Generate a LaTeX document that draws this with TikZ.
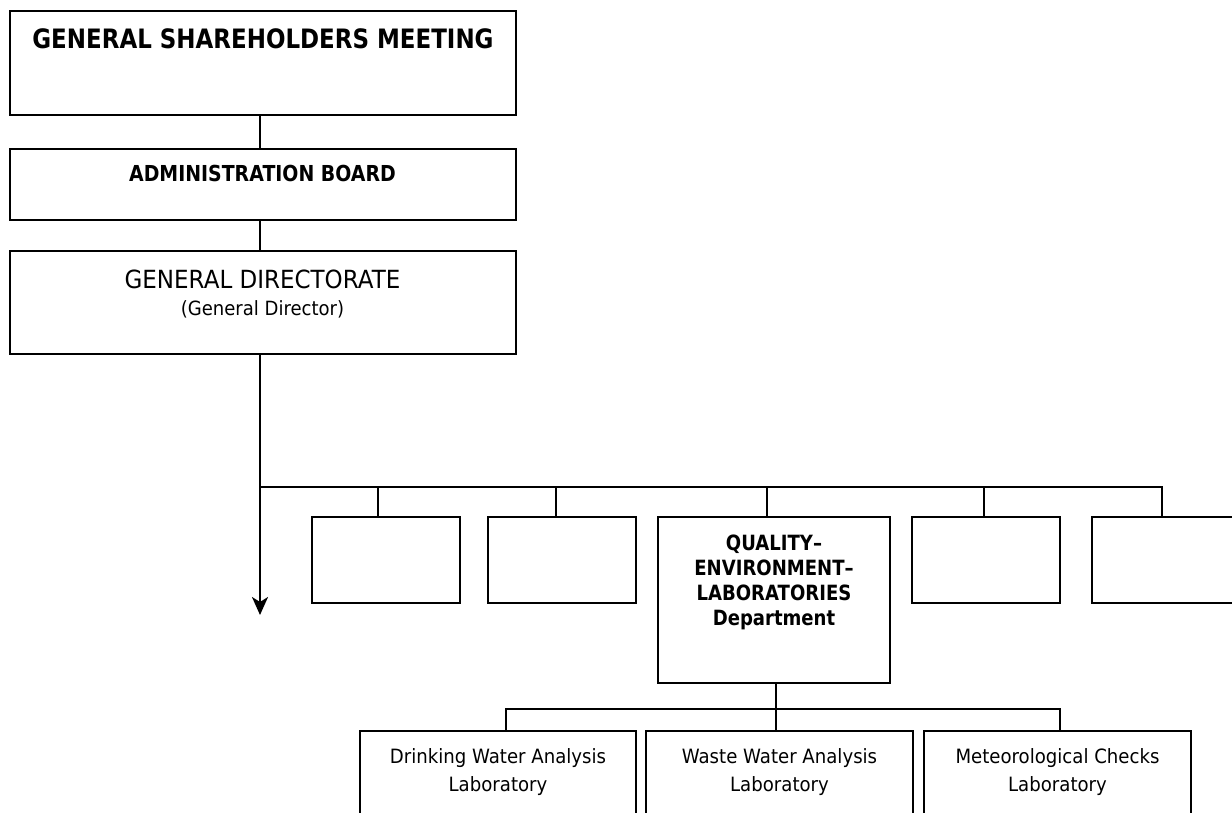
\documentclass[tikz,border=0pt]{standalone}
\usepackage{fontspec}
\setmainfont{DejaVu Sans}[FakeStretch=0.92,BoldFeatures={FakeStretch=0.86}]
\usetikzlibrary{arrows.meta}
\begin{document}
\begin{tikzpicture}[x=1pt,y=-1pt,
  box/.style={draw, line width=2.2pt, inner sep=0pt, rectangle},
  conn/.style={line width=2.2pt},
  txt/.style={inner sep=0pt, anchor=base},
  mtxt/.style={inner sep=0pt, anchor=north, align=center}]
\useasboundingbox (0,0) rectangle (1232,813);
\clip (0,0) rectangle (1232,813);
% top chain
\node[box, minimum width=506pt, minimum height=104pt] (gsm) at (263,63) {};
\node[box, minimum width=506pt, minimum height=71pt] (adm) at (263,184.5) {};
\node[box, minimum width=506pt, minimum height=103pt] (gd) at (263,302.5) {};
\node[txt, font=\fontsize{26.7}{30}\selectfont\bfseries] (gsmt) at (263,49) {GENERAL SHAREHOLDERS MEETING};
\node[txt, font=\fontsize{22}{26}\selectfont\bfseries] (admt) at (262.5,182) {ADMINISTRATION BOARD};
\node[txt, font=\fontsize{25}{28}\selectfont] (gdt) at (262.5,288) {GENERAL DIRECTORATE};
\node[txt, font=\fontsize{19.6}{22}\selectfont] (gdt2) at (262.5,315) {(General Director)};
% departments
\node[box, minimum width=148pt, minimum height=86pt] (d1) at (386,560) {};
\node[box, minimum width=148pt, minimum height=86pt] (d2) at (562,560) {};
\node[box, minimum width=232pt, minimum height=166pt] (qel) at (774,600) {};
\node[box, minimum width=148pt, minimum height=86pt] (d4) at (986,560) {};
\node[box, minimum width=148pt, minimum height=86pt] (d5) at (1166,560) {};
\node[mtxt, font=\fontsize{21}{25}\selectfont\bfseries] (qelt) at (774,535) {QUALITY–\\ENVIRONMENT–\\LABORATORIES\\Department};
% laboratories
\node[box, minimum width=276pt, minimum height=99pt] (l1) at (498,780.5) {};
\node[box, minimum width=267pt, minimum height=99pt] (l2) at (779.5,780.5) {};
\node[box, minimum width=267pt, minimum height=99pt] (l3) at (1057.5,780.5) {};
\node[mtxt, font=\fontsize{19.7}{28}\selectfont] (l1t) at (498,748) {Drinking Water Analysis\\Laboratory};
\node[mtxt, font=\fontsize{19.7}{28}\selectfont] (l2t) at (779.5,748) {Waste Water Analysis\\Laboratory};
\node[mtxt, font=\fontsize{19.7}{28}\selectfont] (l3t) at (1057.5,748) {Meteorological Checks\\Laboratory};
% connector guides
\coordinate (trunk) at (260,487);
\coordinate (tip) at (260,615);
\coordinate (s1) at (378,487);
\coordinate (s2) at (556,487);
\coordinate (s3) at (767,487);
\coordinate (s4) at (984,487);
\coordinate (s5) at (1162,487);
\coordinate (q) at (776,709);
\coordinate (b1) at (506,709);
\coordinate (b3) at (1060,709);
% connectors
\draw[conn] (gsm.south -| trunk) -- (adm.north -| trunk);
\draw[conn] (adm.south -| trunk) -- (gd.north -| trunk);
\draw[conn, -{Stealth[length=18pt,width=16pt,inset=5pt]}] (gd.south -| trunk) -- (tip);
\draw[conn] (trunk) -- (s5) -- (d5.north -| s5);
\draw[conn] (s1) -- (d1.north -| s1);
\draw[conn] (s2) -- (d2.north -| s2);
\draw[conn] (s3) -- (qel.north -| s3);
\draw[conn] (s4) -- (d4.north -| s4);
\draw[conn] (qel.south -| q) -- (l2.north -| q);
\draw[conn] (l1.north -| b1) -- (b1) -- (b3) -- (l3.north -| b3);
\end{tikzpicture}
\end{document}
